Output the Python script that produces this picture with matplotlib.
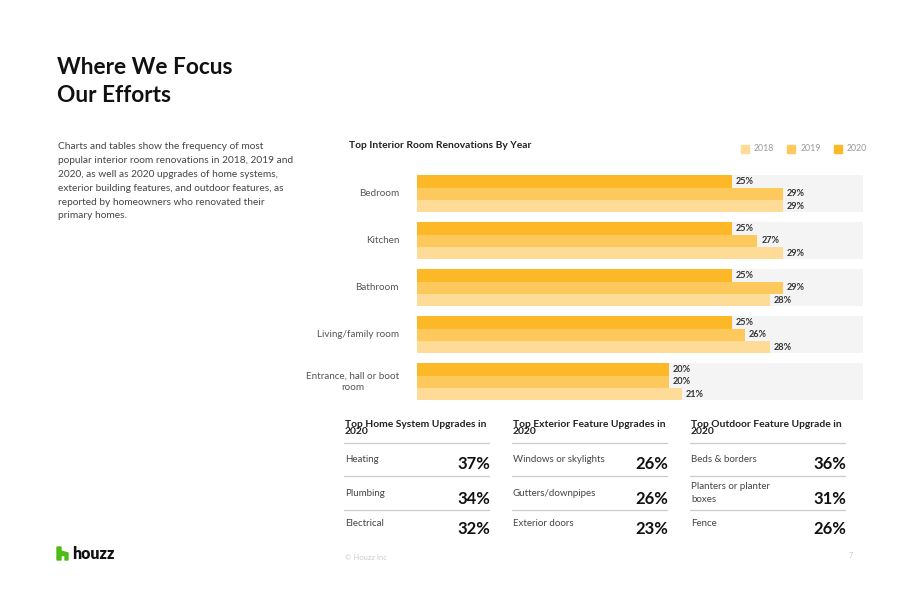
import matplotlib
matplotlib.use("Agg")
import matplotlib.pyplot as plt
from matplotlib.patches import Rectangle, Polygon
from matplotlib.lines import Line2D

plt.rcParams["font.family"] = ["Lato", "DejaVu Sans"]

# ── data ────────────────────────────────────────────────
rooms = ["Bedroom", "Kitchen", "Bathroom", "Living/family room",
         "Entrance, hall or boot\nroom"]
years = ["2020", "2019", "2018"]
share_2020 = [25, 25, 25, 25, 20]
share_2019 = [29, 27, 29, 26, 20]
share_2018 = [29, 29, 28, 28, 21]

table_titles = ["Top Home System Upgrades in\n2020",
                "Top Exterior Feature Upgrades in\n2020",
                "Top Outdoor Feature Upgrade in\n2020"]
table_labels = [["Heating", "Plumbing", "Electrical"],
                ["Windows or skylights", "Gutters/downpipes", "Exterior doors"],
                ["Beds & borders", "Planters or planter\nboxes", "Fence"]]
table_values = [[37, 34, 32],
                [26, 26, 23],
                [36, 31, 26]]

description = ("Charts and tables show the frequency of most\n"
               "popular interior room renovations in 2018, 2019 and\n"
               "2020, as well as 2020 upgrades of home systems,\n"
               "exterior building features, and outdoor features, as\n"
               "reported by homeowners who renovated their\n"
               "primary homes.")

COLORS = {"2020": "#FDB827", "2019": "#FEC95C", "2018": "#FEDC97"}
W, H = 920, 596


def fx(x):
    return x / W


def fy(y):
    return 1 - y / H


fig = plt.figure(figsize=(W / 100, H / 100), dpi=100)
fig.patch.set_facecolor("white")

# ── left side text ──────────────────────────────────────
fig.text(fx(57), fy(67), "Where We Focus", fontsize=16.3, fontweight="bold",
         color="#111111", va="center", ha="left")
fig.text(fx(57), fy(96), "Our Efforts", fontsize=16.3, fontweight="bold",
         color="#111111", va="center", ha="left")
fig.text(fx(58), fy(142.5), description, fontsize=7.3, color="#444444",
         va="top", ha="left", linespacing=1.68)

# ── bar chart ───────────────────────────────────────────
left, right, top, bottom = 417.3, 863.3, 175.3, 400.3
ax = fig.add_axes([fx(left), fy(bottom), fx(right - left), (bottom - top) / H])
group_h = 37 / 47
bar_h = group_h / 3
xmax = 35.4
ax.set_xlim(0, xmax)
ax.set_ylim(4 + group_h, 0)
ax.axis("off")

series = {"2020": share_2020, "2019": share_2019, "2018": share_2018}
for i, room in enumerate(rooms):
    ax.barh(i + group_h / 2, xmax, height=group_h, color="#F4F4F4",
            edgecolor="none", zorder=0)
    for j, yr in enumerate(years):
        v = series[yr][i]
        yc = i + bar_h * (j + 0.5)
        ax.barh(yc, v, height=bar_h, color=COLORS[yr], edgecolor="none", zorder=1)
        ax.text(v + 0.3, yc, f"{v}%", fontsize=6.6, fontweight="bold",
                color="#333333", va="center", ha="left", zorder=2)
    ax.text(-1.45, i + group_h / 2, room, fontsize=7.1, color="#555555",
            va="center", ha="right", multialignment="center", linespacing=1.35)

fig.text(fx(349), fy(146), "Top Interior Room Renovations By Year",
         fontsize=7.4, fontweight="bold", color="#222222", va="center")

# legend
for x, yr in zip([741, 787.5, 834], ["2018", "2019", "2020"]):
    fig.patches.append(Rectangle((fx(x), fy(152.5)), 8 / W, 8 / H,
                                 transform=fig.transFigure,
                                 color=COLORS[yr], zorder=3))
    fig.text(fx(x + 13), fy(148.5), yr, fontsize=6.3, color="#999999",
             va="center", ha="left")

# ── tables ──────────────────────────────────────────────
col_x = [(344, 489), (512, 667), (690, 845)]
row_label_y = [459.7, 493, 523.7]
row_val_y = [463.7, 498.5, 529.3]
sep_y = [442.7, 476, 509.7]
for k, (x0, x1) in enumerate(col_x):
    fig.text(fx(x0 + 1), fy(428), table_titles[k], fontsize=7.4,
             fontweight="bold", color="#222222", va="center", ha="left",
             linespacing=0.78)
    for ys in sep_y:
        fig.lines.append(Line2D([fx(x0), fx(x1)], [fy(ys), fy(ys)],
                                transform=fig.transFigure, color="#CCCCCC",
                                linewidth=0.9))
    for r in range(3):
        lab = table_labels[k][r]
        fig.text(fx(x0 + 1), fy(row_label_y[r]), lab, fontsize=7.0,
                 color="#444444", va="center", ha="left", linespacing=1.55)
        fig.text(fx(x1 + 1), fy(row_val_y[r]), f"{table_values[k][r]}%",
                 fontsize=12, fontweight="bold", color="#111111",
                 va="center", ha="right")

# ── footer ──────────────────────────────────────────────
logo = [(57, 547), (61, 547), (61, 551), (68, 553), (68, 560), (65, 560),
        (65, 555.5), (61, 555.5), (61, 560), (57, 560)]
fig.patches.append(Polygon([(fx(x), fy(y)) for x, y in logo], closed=True,
                           transform=fig.transFigure, color="#4DBC15"))
fig.text(fx(72), fy(554), "houzz", fontsize=11.5, fontweight="heavy",
         color="#111111", va="center", ha="left")
fig.text(fx(345), fy(557), "© Houzz Inc", fontsize=5.5, color="#CCCCCC",
         va="center", ha="left")
fig.text(fx(853), fy(556), "7", fontsize=5.5, color="#CCCCCC",
         va="center", ha="right")

fig.savefig("out.png", dpi=100, facecolor="white")
